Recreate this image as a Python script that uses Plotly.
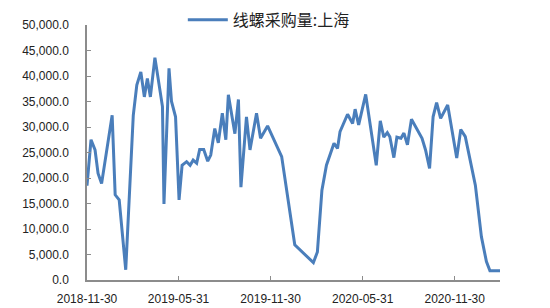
import plotly.graph_objects as go

dates = [
    "2018-11-30", "2018-12-08", "2018-12-16", "2018-12-22", "2018-12-29",
    "2019-01-19", "2019-01-25", "2019-02-02", "2019-02-15", "2019-03-02",
    "2019-03-09", "2019-03-17", "2019-03-24", "2019-03-30", "2019-04-05",
    "2019-04-14", "2019-04-29", "2019-05-02", "2019-05-12", "2019-05-17",
    "2019-05-25", "2019-06-01", "2019-06-07", "2019-06-16", "2019-06-23",
    "2019-06-29", "2019-07-06", "2019-07-12", "2019-07-20", "2019-07-28",
    "2019-08-03", "2019-08-11", "2019-08-18", "2019-08-26", "2019-09-02",
    "2019-09-07", "2019-09-20", "2019-09-27", "2019-10-02", "2019-10-13",
    "2019-10-20", "2019-11-02", "2019-11-10", "2019-11-24", "2019-12-22",
    "2020-01-17", "2020-02-23", "2020-03-02", "2020-03-11", "2020-03-20",
    "2020-04-04", "2020-04-11", "2020-04-16", "2020-05-01", "2020-05-11",
    "2020-05-16", "2020-05-23", "2020-06-06", "2020-06-27", "2020-07-05",
    "2020-07-12", "2020-07-19", "2020-07-24", "2020-08-01", "2020-08-07",
    "2020-08-15", "2020-08-21", "2020-08-28", "2020-09-05", "2020-09-26",
    "2020-10-03", "2020-10-11", "2020-10-18", "2020-10-25", "2020-11-02",
    "2020-11-16", "2020-12-04", "2020-12-12", "2020-12-21", "2021-01-01",
    "2021-01-10", "2021-01-22", "2021-02-01", "2021-02-08", "2021-03-01",
]

purchase_shanghai = [
    18500, 27500, 25500, 20900, 18900,
    32300, 16700, 15700, 2000, 32300,
    38200, 40800, 35900, 39500, 35900,
    43600, 34000, 14900, 41500, 35000,
    32000, 15700, 22500, 23200, 22500,
    23500, 22900, 25600, 25600, 23300,
    24500, 29700, 26900, 32700, 27500,
    36300, 28700, 35400, 18200, 32000,
    25500, 32700, 27800, 30200, 24200,
    6900, 3400, 5500, 17600, 22500,
    26800, 25800, 29100, 32500, 30700,
    33500, 30400, 36400, 22500, 31200,
    28000, 28900, 28100, 24000, 28000,
    27800, 28800, 26500, 31500, 27800,
    25500, 21900, 32000, 34800, 31700,
    34300, 23900, 29500, 28100, 22500,
    18600, 8500, 3600, 1800, 1800,
]

series_name = "线螺采购量:上海"
x_tick_vals = ["2018-11-30", "2019-05-31", "2019-11-30", "2020-05-31", "2020-11-30"]
x_tick_text = ["2018-11-30", "2019-05-31", "2019-11-30", "2020-05-31", "2020-11-30"]
y_tick_vals = list(range(0, 50001, 5000))

fig = go.Figure()
fig.add_trace(go.Scatter(
    x=dates, y=purchase_shanghai, mode="lines", name=series_name,
    line=dict(color="#4A7EBB", width=3),
))

font_family = "Liberation Sans, Arial, Noto Sans CJK SC, sans-serif"
fig.update_layout(
    width=550, height=308,
    margin=dict(l=87, r=50, t=25, b=28, autoexpand=False),
    paper_bgcolor="white", plot_bgcolor="white",
    font=dict(family=font_family, size=12, color="#222222"),
    showlegend=True,
    legend=dict(
        orientation="h", x=0.232, y=1.02, xanchor="left", yanchor="middle",
        font=dict(family="Noto Sans CJK SC", size=16, color="#222222"),
        bgcolor="rgba(0,0,0,0)", itemwidth=40,
    ),
)
fig.update_xaxes(
    type="date", range=["2018-11-30", "2021-02-28"],
    tickvals=x_tick_vals, ticktext=x_tick_text,
    showgrid=False, zeroline=False, automargin=False,
    showline=True, linecolor="#8C8C8C", linewidth=1.5,
    ticks="inside", ticklen=4, tickcolor="#8C8C8C",
    ticklabelstandoff=7,
    tickfont=dict(size=12),
)
fig.update_yaxes(
    range=[0, 50000], tickvals=y_tick_vals, tickformat=",.1f",
    showgrid=False, zeroline=False, automargin=False,
    showline=True, linecolor="#8C8C8C", linewidth=1.5,
    ticks="inside", ticklen=4, tickcolor="#8C8C8C",
    ticklabelstandoff=14,
    tickfont=dict(size=12),
)

fig.write_html("out.html")
